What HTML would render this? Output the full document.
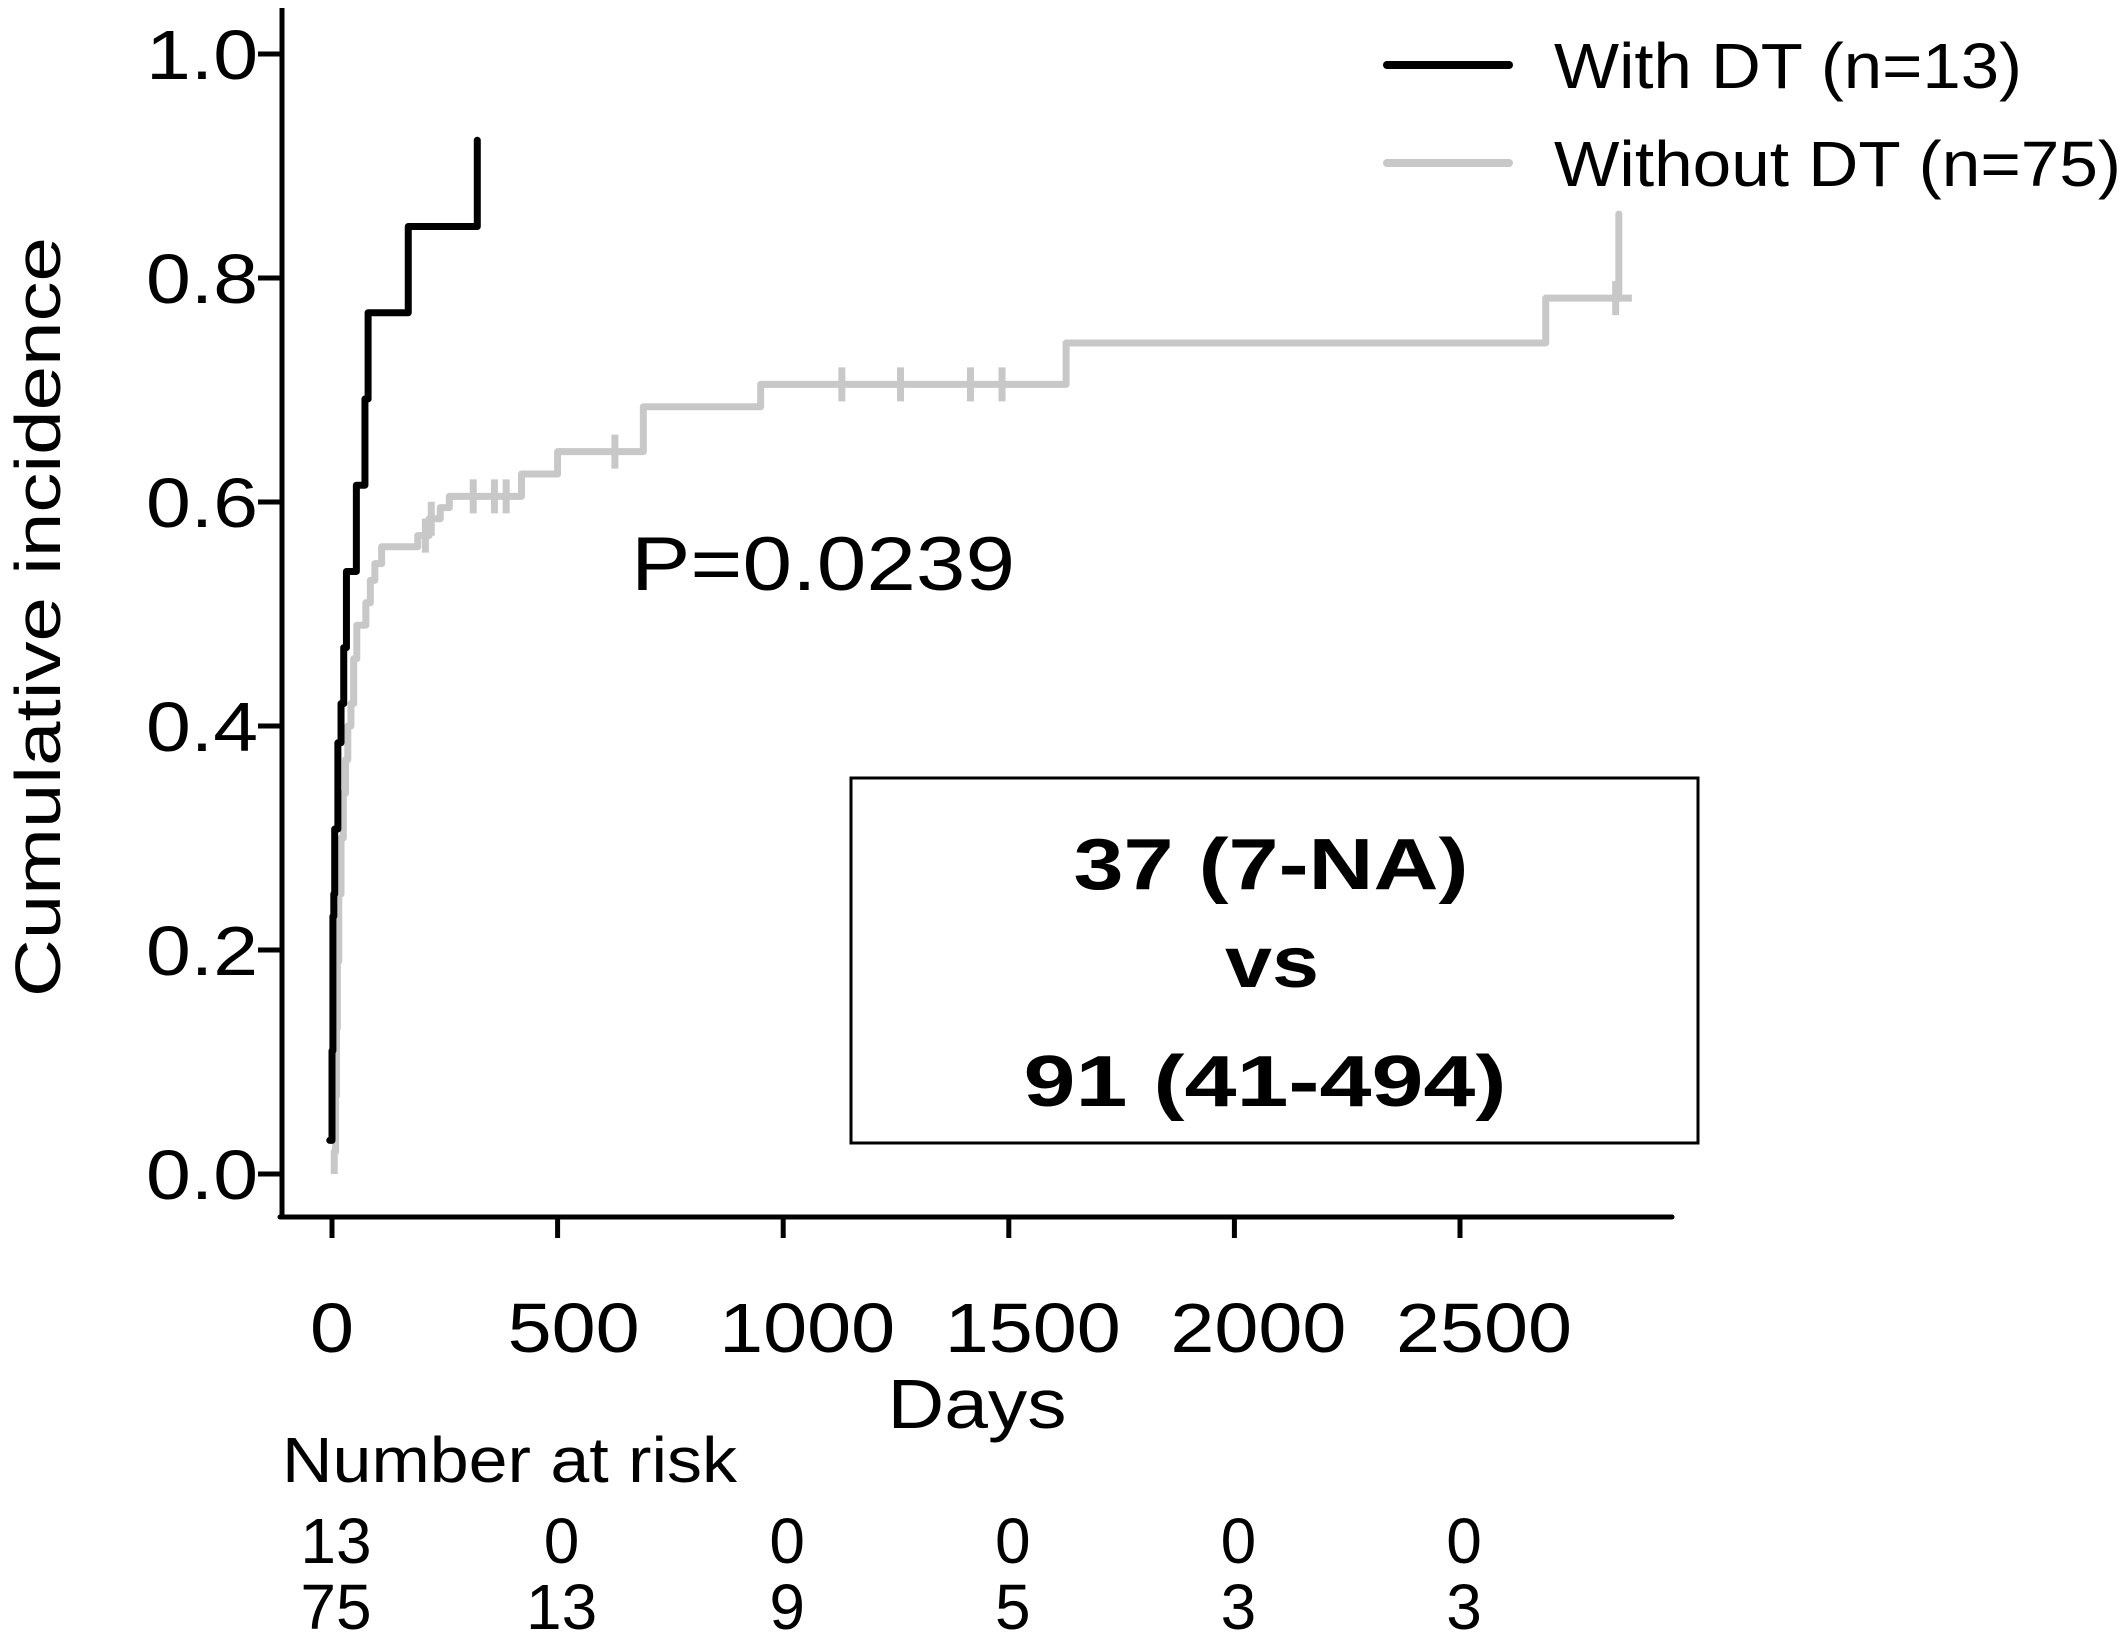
<!DOCTYPE html>
<html><head><meta charset="utf-8"><style>
html,body{margin:0;padding:0;background:#fff;}
svg{display:block;font-family:"Liberation Sans",Arial,sans-serif;}
</style></head><body>
<svg id="chart" width="2128" height="1638" viewBox="0 0 2128 1638" xmlns="http://www.w3.org/2000/svg">
<g id="axes"></g>
<g id="series"></g>
<g id="legend">
  <line x1="1387" y1="65" x2="1509" y2="65" stroke="#000" stroke-width="8" stroke-linecap="round"/>
  <text x="1554" y="88" font-size="64" textLength="468" lengthAdjust="spacingAndGlyphs">With DT (n=13)</text>
  <line x1="1387" y1="163" x2="1509" y2="163" stroke="#c8c8c8" stroke-width="8" stroke-linecap="round"/>
  <text x="1554" y="186" font-size="64" textLength="567" lengthAdjust="spacingAndGlyphs">Without DT (n=75)</text>
</g>
<text x="631" y="590" font-size="76" textLength="384" lengthAdjust="spacingAndGlyphs">P=0.0239</text>
<g>
  <rect x="851" y="778" width="847" height="365" fill="none" stroke="#000" stroke-width="3"/>
  <text x="1271" y="889" font-size="72" font-weight="bold" text-anchor="middle" textLength="395" lengthAdjust="spacingAndGlyphs">37 (7-NA)</text>
  <text x="1272" y="987" font-size="72" font-weight="bold" text-anchor="middle" textLength="94" lengthAdjust="spacingAndGlyphs">vs</text>
  <text x="1265" y="1106" font-size="72" font-weight="bold" text-anchor="middle" textLength="483" lengthAdjust="spacingAndGlyphs">91 (41-494)</text>
</g>
<text x="977" y="1428" font-size="70" text-anchor="middle" textLength="179" lengthAdjust="spacingAndGlyphs">Days</text>
<text transform="translate(60,617) rotate(-90)" font-size="64" text-anchor="middle" textLength="760" lengthAdjust="spacingAndGlyphs">Cumulative incidence</text>
<text x="282" y="1482" font-size="64" textLength="455" lengthAdjust="spacingAndGlyphs">Number at risk</text>
<g id="risk"></g>
</svg>
<script>
const xTicks = [0, 500, 1000, 1500, 2000, 2500];
const xTickLabels = ["0", "500", "1000", "1500", "2000", "2500"];
const yTicks = [0, 0.2, 0.4, 0.6, 0.8, 1.0];
const yTickLabels = ["0.0", "0.2", "0.4", "0.6", "0.8", "1.0"];
const riskWithDT = ["13", "0", "0", "0", "0", "0"];
const riskWithoutDT = ["75", "13", "9", "5", "3", "3"];
const withDTTimes = [0, 2, 4, 6, 13, 20, 26, 32, 54, 73, 80, 169, 322];
const withDTValues = [0.11, 0.23, 0.25, 0.308, 0.385, 0.42, 0.47, 0.538, 0.615, 0.692, 0.769, 0.846, 0.923];
const withDTStart = [-5, 0.03];
const withoutDTTimes = [5, 8, 10, 12, 15, 20, 25, 30, 35, 42, 48, 55, 75, 85, 95, 110, 190, 215, 240, 260, 420, 500, 690, 950, 1627, 2690];
const withoutDTValues = [0.02, 0.07, 0.13, 0.19, 0.25, 0.30, 0.34, 0.37, 0.40, 0.42, 0.46, 0.49, 0.51, 0.53, 0.545, 0.56, 0.57, 0.585, 0.595, 0.605, 0.625, 0.645, 0.685, 0.705, 0.742, 0.782];
const withoutDTEnd = 2881;
const withoutDTLastJumpTime = 2852;
const withoutDTLastJumpValue = 0.857;
const censorTimes = [207, 220, 313, 360, 386, 627, 1130, 1260, 1415, 1485, 2845];

const NS = "http://www.w3.org/2000/svg";
const X0 = 332, XPER = 225.6 / 500;
const Y0 = 1174, YPER = 1120;
function xs(d) { return X0 + d * XPER; }
function ys(v) { return Y0 - v * YPER; }
function mk(tag, attrs, parent) {
  const e = document.createElementNS(NS, tag);
  for (const k in attrs) e.setAttribute(k, attrs[k]);
  parent.appendChild(e);
  return e;
}
const axes = document.getElementById('axes');
const series = document.getElementById('series');
const risk = document.getElementById('risk');

const yAxis = mk('line', {x1: 282, y1: 8, x2: 282, y2: 1219, stroke: '#000', 'stroke-width': 5}, axes);


const xAxis = mk('line', {x1: 280, y1: 1217, x2: 1672, y2: 1217, stroke: '#000', 'stroke-width': 5, 'stroke-linecap': 'round'}, axes);



yTicks.forEach((v, i) => {
  const t = mk('line', {x1: 258, y1: ys(v), x2: 282, y2: ys(v), stroke: '#000', 'stroke-width': 5}, axes);
  
  
  const l = mk('text', {x: 258, y: ys(v) + 25, 'font-size': 70, 'text-anchor': 'end', textLength: 112, lengthAdjust: 'spacingAndGlyphs'}, axes);
  l.textContent = yTickLabels[i];
  
  
});
xTicks.forEach((d, i) => {
  const t = mk('line', {x1: xs(d), y1: 1217, x2: xs(d), y2: 1238, stroke: '#000', 'stroke-width': 5}, axes);
  
  
  const s = xTickLabels[i];
  const l = mk('text', {x: xs(d) + 8 * (s.length - 1), y: 1352, 'font-size': 70, 'text-anchor': 'middle', textLength: 44 * s.length, lengthAdjust: 'spacingAndGlyphs'}, axes);
  l.textContent = s;
  
  
  const r1 = mk('text', {x: xs(d) + 4, y: 1563, 'font-size': 64, 'text-anchor': 'middle'}, risk);
  r1.textContent = riskWithDT[i];
  
  
  const r2 = mk('text', {x: xs(d) + 4, y: 1629, 'font-size': 64, 'text-anchor': 'middle'}, risk);
  r2.textContent = riskWithoutDT[i];
  
  
});

function stepPath(startT, startV, times, values, endT) {
  let d = 'M' + xs(startT) + ',' + ys(startV);
  let prev = startV;
  times.forEach((t, i) => {
    d += ' L' + xs(t) + ',' + ys(prev) + ' L' + xs(t) + ',' + ys(values[i]);
    prev = values[i];
  });
  if (endT !== undefined) d += ' L' + xs(endT) + ',' + ys(prev);
  return d;
}
const gp = mk('path', {d: stepPath(5, 0, withoutDTTimes, withoutDTValues, withoutDTEnd), fill: 'none', stroke: '#c8c8c8', 'stroke-width': 7, 'stroke-linejoin': 'round'}, series);


const lastV = withoutDTValues[withoutDTValues.length - 1];
const gj = mk('line', {x1: xs(withoutDTLastJumpTime), y1: ys(lastV), x2: xs(withoutDTLastJumpTime), y2: ys(withoutDTLastJumpValue), stroke: '#c8c8c8', 'stroke-width': 7, 'stroke-linecap': 'round'}, series);


function valueAt(t) {
  let v = 0;
  withoutDTTimes.forEach((tt, i) => { if (tt <= t) v = withoutDTValues[i]; });
  return v;
}
censorTimes.forEach(t => {
  const v = valueAt(t);
  const c = mk('line', {x1: xs(t), y1: ys(v) - 17, x2: xs(t), y2: ys(v) + 17, stroke: '#c8c8c8', 'stroke-width': 7}, series);
  
  
});
const bp = mk('path', {d: stepPath(withDTStart[0], withDTStart[1], withDTTimes, withDTValues), fill: 'none', stroke: '#000', 'stroke-width': 7, 'stroke-linejoin': 'round', 'stroke-linecap': 'round'}, series);


</script>
</body></html>
